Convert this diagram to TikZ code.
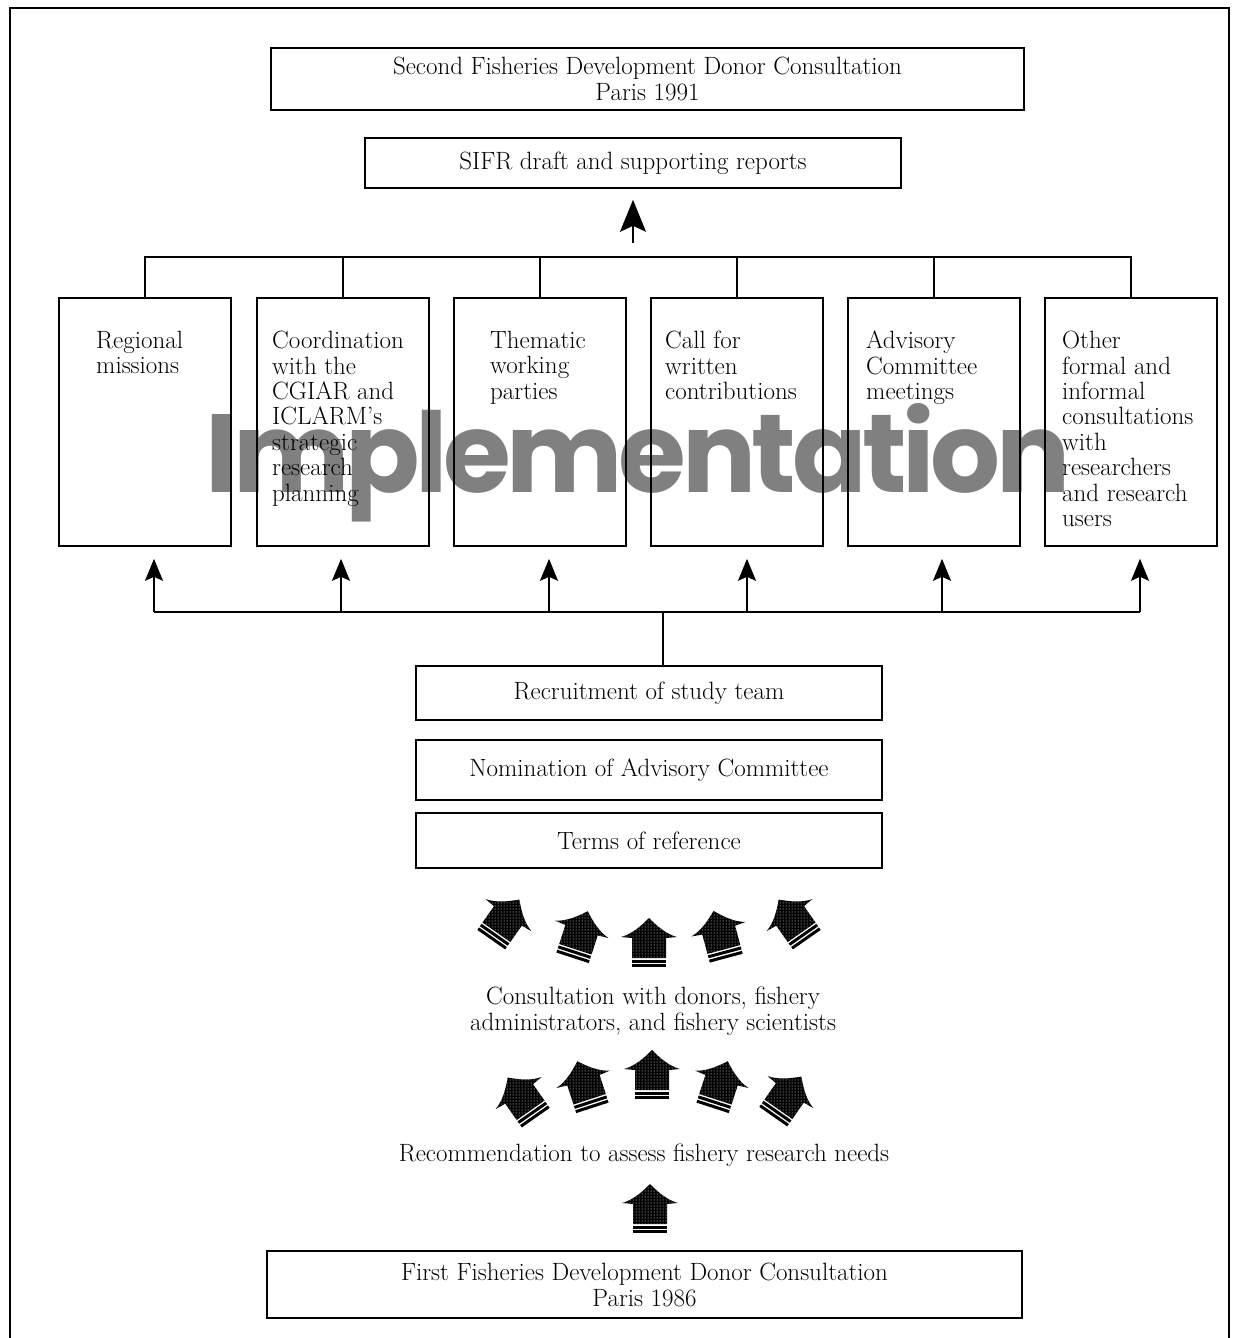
\documentclass[tikz,border=0pt]{standalone}
\usepackage{fontspec}
\usepackage{graphicx}
\usetikzlibrary{arrows.meta,patterns}
\newfontfamily\wmfont{Poppins}[LetterSpace=-4]

\tikzset{
  box/.style={draw, line width=1.6pt, inner sep=0pt},
  lbl/.style={font=\fontsize{25}{25.4}\selectfont, inner sep=0pt, align=left, anchor=north west},
  ctr/.style={font=\fontsize{25}{26}\selectfont, inner sep=0pt, align=center},
  link/.style={line width=1.5pt},
  upar/.style={link, -{Stealth[length=22pt,width=18pt,inset=4pt]}},
  bigar/.style={link, -{Stealth[length=32pt,width=26pt,inset=6pt]}},
  fatup/.pic={
    \path[fill=black, postaction={pattern=dots, pattern color=white}]
      (0,-25) .. controls (-8,-17) and (-17,-9) .. (-28,-6) -- (-17,-5)
      -- (-17,15) -- (17,15) -- (17,-5) -- (28,-6)
      .. controls (17,-9) and (8,-17) .. (0,-25) -- cycle;
    \fill (-17,16.5) rectangle (17,19.5);
    \fill (-17,21) rectangle (17,24);
  }
}

\begin{document}
\begin{tikzpicture}[x=1pt,y=-1pt]
\useasboundingbox (0,0) rectangle (1233,1338);

% frame
\draw[line width=1.3pt] (10,1338) -- (10,8) -- (1229,8) -- (1229,1338);

% watermark
\node[anchor=base west, inner sep=0pt, text=black!50] (wm) at (205,492)
  {\resizebox{865pt}{89pt}{\wmfont\bfseries Implementation}};

% top boxes
\node[box, ctr, minimum width=753pt, minimum height=62pt] (second) at (647.5,79)
  {Second Fisheries Development Donor Consultation\\Paris 1991};
\node[box, ctr, minimum width=536pt, minimum height=50pt] (sifr) at (633,163)
  {SIFR draft and supporting reports};

% six activity boxes
\foreach \i/\x in {1/145,2/343,3/540,4/737,5/934,6/1131}
  \node[box, minimum width=172pt, minimum height=248pt] (b\i) at (\x,422) {};

\node[lbl] (t1) at (96,331) {Regional\\missions};
\node[lbl] (t2) at (272,331) {Coordination\\with the\\CGIAR and\\ICLARM's\\strategic\\research\\planning};
\node[lbl] (t3) at (490,331) {Thematic\\working\\parties};
\node[lbl] (t4) at (665,331) {Call for\\written\\contributions};
\node[lbl] (t5) at (866,331) {Advisory\\Committee\\meetings};
\node[lbl] (t6) at (1062,331) {Other\\formal and\\informal\\consultations\\with\\researchers\\and research\\users};

% collecting bracket and arrow to the report
\coordinate (collect) at (633,257);
\draw[link] (b1.north) -- (b1.north |- collect) -- (b6.north |- collect) -- (b6.north);
\foreach \i in {2,...,5}
  \draw[link] (b\i.north) -- (b\i.north |- collect);
\draw[bigar, shorten <=14pt, shorten >=11pt] (collect) -- (sifr.south);

% distribution line and arrows up to the boxes
\foreach \i/\x in {1/154,2/341,3/549,4/747,5/942,6/1140}
  \coordinate (d\i) at (\x,612);
\coordinate (dist) at (663,612);
\draw[link] (d1) -- (d6);
\foreach \i in {1,...,6}
  \draw[upar, shorten >=12pt] (d\i) -- (d\i |- b\i.south);

% stacked boxes
\node[box, ctr, minimum width=466pt, minimum height=54pt] (recruit) at (649,693)
  {Recruitment of study team};
\node[box, ctr, minimum width=466pt, minimum height=60pt] (nominate) at (649,770)
  {Nomination of Advisory Committee};
\node[box, ctr, minimum width=466pt, minimum height=55pt] (terms) at (649,840.5)
  {Terms of reference};
\draw[link] (dist) -- (dist |- recruit.north);

% consultation texts
\node[ctr] (consult) at (653,1011)
  {Consultation with donors, fishery\\administrators, and fishery scientists};
\node[ctr] (recommend) at (644,1155)
  {Recommendation to assess fishery research needs};

% first consultation
\node[box, ctr, minimum width=755pt, minimum height=67pt] (first) at (644.5,1284.5)
  {First Fisheries Development Donor Consultation\\Paris 1986};

% fat arrows converging on the terms of reference
\pic[rotate=-35] at (505,920) {fatup};
\pic[rotate=-18] at (580,935) {fatup};
\pic at (649,943) {fatup};
\pic[rotate=15] at (720,935) {fatup};
\pic[rotate=35] at (793,920) {fatup};

% fat arrows fanning out from the recommendation
\pic[rotate=35] at (522,1098) {fatup};
\pic[rotate=18] at (585,1085) {fatup};
\pic at (652,1075) {fatup};
\pic[rotate=-18] at (720,1085) {fatup};
\pic[rotate=-35] at (787,1097) {fatup};

% single arrow above the first consultation
\pic at (650,1209) {fatup};
\end{tikzpicture}
\end{document}
